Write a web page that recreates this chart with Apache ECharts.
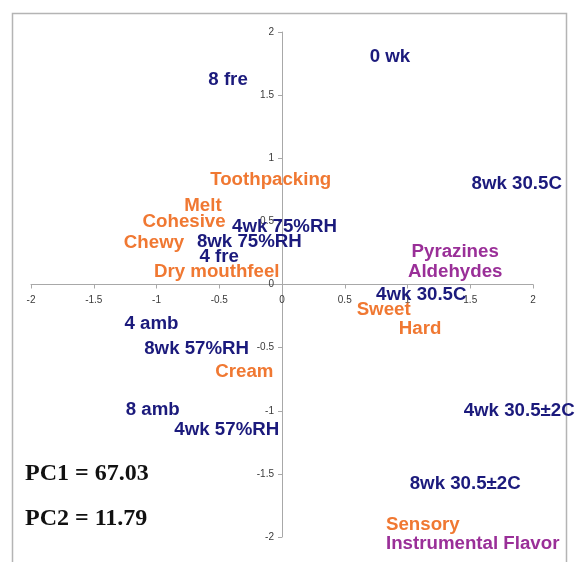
<!DOCTYPE html>
<html>
<head>
<meta charset="utf-8">
<script src="https://cdn.jsdelivr.net/npm/echarts@6/dist/echarts.min.js"></script>
<style>
  html, body { margin: 0; padding: 0; background: #ffffff; }
  #chart { width: 577px; height: 562px; }
</style>
</head>
<body>
<div id="chart"></div>
<script>
// PCA scores: storage samples (PC1, PC2)
const sampleNames = ['0 wk', '8 fre', '8wk 30.5C', '4wk 75%RH', '8wk 75%RH', '4 fre', '4wk 30.5C',
  '4 amb', '8wk 57%RH', '8 amb', '4wk 30.5±2C', '4wk 57%RH', '8wk 30.5±2C'];
const sampleX = [0.86, -0.43, 1.87, 0.02, -0.26, -0.50, 1.11, -1.04, -0.68, -1.03, 1.89, -0.44, 1.46];
const sampleY = [1.80, 1.62, 0.80, 0.46, 0.34, 0.22, -0.08, -0.31, -0.51, -0.99, -1.00, -1.15, -1.58];

// PCA loadings: sensory attributes
const sensoryNames = ['Toothpacking', 'Melt', 'Cohesive', 'Chewy', 'Dry mouthfeel', 'Sweet', 'Hard', 'Cream'];
const sensoryX = [-0.09, -0.63, -0.78, -1.02, -0.52, 0.81, 1.10, -0.30];
const sensoryY = [0.83, 0.62, 0.50, 0.33, 0.10, -0.20, -0.35, -0.69];

// PCA loadings: instrumental flavor compounds
const flavorNames = ['Pyrazines', 'Aldehydes'];
const flavorX = [1.38, 1.38];
const flavorY = [0.26, 0.10];

// Axis ticks
const axisMin = -2;
const axisMax = 2;
const axisStep = 0.5;

// Explained variance (%)
const pc1Variance = '67.03';
const pc2Variance = '11.79';

const NAVY = '#1b1a7c';
const ORANGE = '#f07832';
const PURPLE = '#9a2f98';
const FONT = '"Liberation Sans", Arial, sans-serif';
const LABEL_SIZE = 18.7;

// Plot box in pixels; both axes cross at the origin, which sits mid-box
const GRID = { left: 31, right: 44, top: 32, bottom: 25 };
const W = 577, H = 562;
const plotW = W - GRID.left - GRID.right;
const plotH = H - GRID.top - GRID.bottom;

function toPoints(names, xs, ys) {
  return names.map((n, i) => ({ name: n, value: [xs[i], ys[i]] }));
}

function labelSeries(name, names, xs, ys, color) {
  return {
    name: name,
    type: 'scatter',
    data: toPoints(names, xs, ys),
    symbolSize: 1,
    itemStyle: { color: 'rgba(0,0,0,0)', opacity: 1 },
    clip: false,
    silent: true,
    label: {
      show: true,
      position: 'inside',
      align: 'center',
      verticalAlign: 'middle',
      formatter: p => p.name,
      color: color,
      fontFamily: FONT,
      fontWeight: 'bold',
      fontSize: LABEL_SIZE
    }
  };
}

function axis(offset, margin) {
  return {
    type: 'value',
    min: axisMin,
    max: axisMax,
    interval: axisStep,
    offset: offset,
    axisLine: { onZero: false, lineStyle: { color: '#a8a8a8', width: 1 } },
    axisTick: { show: true, length: 4, lineStyle: { color: '#a8a8a8' } },
    splitLine: { show: false },
    axisLabel: { color: '#3a3a3a', fontSize: 10, fontFamily: FONT, margin: margin }
  };
}

const chart = echarts.init(document.getElementById('chart'), null, { renderer: 'canvas' });

chart.setOption({
  backgroundColor: '#ffffff',
  animation: false,
  grid: Object.assign({ outerBoundsMode: 'none' }, GRID),
  // move each axis from the box edge to the zero line
  xAxis: axis(-plotH / 2, 11),
  yAxis: axis(-plotW / 2, 8),
  legend: {
    orient: 'vertical',
    left: 381,
    top: 515,
    height: 50,
    padding: 0,
    icon: 'none',
    itemWidth: 0,
    itemHeight: 14,
    itemGap: 0,
    selectedMode: false,
    textStyle: { fontFamily: FONT, fontWeight: 'bold', fontSize: LABEL_SIZE, lineHeight: 16 },
    data: [
      { name: 'Sensory', textStyle: { color: ORANGE } },
      { name: 'Instrumental Flavor', textStyle: { color: PURPLE } }
    ]
  },
  graphic: [
    {
      type: 'rect',
      silent: true,
      shape: { x: 12.5, y: 13.5, width: 554, height: 570 },
      style: { fill: 'none', stroke: '#b4b4b4', lineWidth: 1.5 },
      z: -1
    },
    {
      type: 'text',
      left: 25,
      top: 462,
      style: {
        text: 'PC1 = ' + pc1Variance,
        fill: '#111111',
        font: 'bold 24px "Liberation Serif", "Times New Roman", serif'
      }
    },
    {
      type: 'text',
      left: 25,
      top: 507,
      style: {
        text: 'PC2 = ' + pc2Variance,
        fill: '#111111',
        font: 'bold 24px "Liberation Serif", "Times New Roman", serif'
      }
    }
  ],
  series: [
    labelSeries('Samples', sampleNames, sampleX, sampleY, NAVY),
    labelSeries('Sensory', sensoryNames, sensoryX, sensoryY, ORANGE),
    labelSeries('Instrumental Flavor', flavorNames, flavorX, flavorY, PURPLE)
  ]
});
</script>
</body>
</html>
